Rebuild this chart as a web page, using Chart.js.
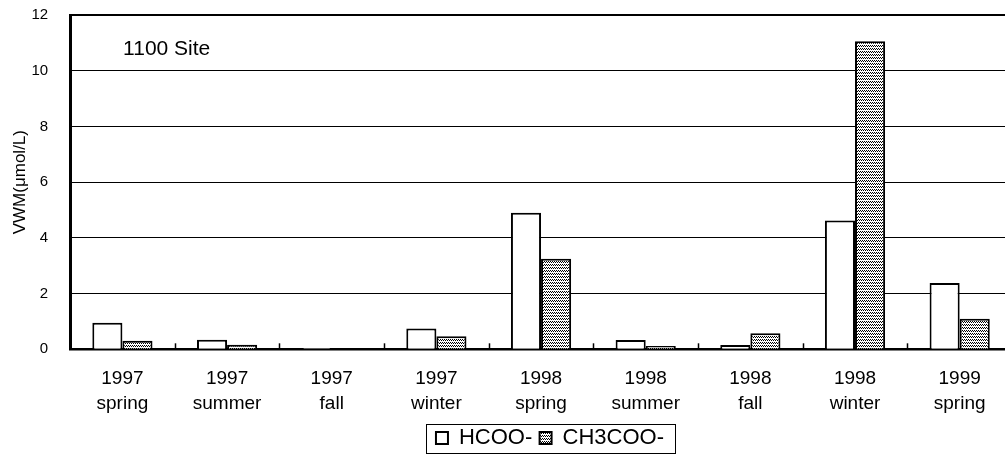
<!DOCTYPE html>
<html>
<head>
<meta charset="utf-8">
<script src="https://cdn.jsdelivr.net/npm/chart.js@4.4.1/dist/chart.umd.min.js"></script>
<style>
  html, body { margin: 0; padding: 0; background: #fff; overflow: hidden; }
  #wrap { width: 1012px; height: 455px; }
</style>
</head>
<body>
<div id="wrap"><canvas id="chart" width="1012" height="455"></canvas></div>
<script>
// Seasonal volume-weighted mean concentrations at the 1100 site
const seasonYears = ['1997', '1997', '1997', '1997', '1998', '1998', '1998', '1998', '1999'];
const seasonNames = ['spring', 'summer', 'fall', 'winter', 'spring', 'summer', 'fall', 'winter', 'spring'];
const hcooValues   = [0.95, 0.34, 0.05, 0.75, 4.90, 0.33, 0.15, 4.62, 2.38];
const ch3cooValues = [0.31, 0.16, 0.03, 0.47, 3.25, 0.12, 0.58, 11.06, 1.10];
const seriesNames = ['HCOO-', 'CH3COO-'];
const yMin = 0, yMax = 12, yStep = 2;
const yTitle = 'VWM(\u03bcmol/L)';
const siteLabel = '1100 Site';

const categories = seasonYears.map((y, i) => [y, seasonNames[i]]);

// Dotted halftone fill for the acetate bars
function dotPattern() {
  const c = document.createElement('canvas');
  c.width = 4; c.height = 3;
  const g = c.getContext('2d');
  g.fillStyle = '#ffffff';
  g.fillRect(0, 0, 4, 3);
  g.fillStyle = '#000000';
  [[0, 0], [2, 0], [1, 1], [3, 1]].forEach(([x, y]) => g.fillRect(x, y, 1, 1));
  return g.createPattern(c, 'repeat');
}

Chart.defaults.font.family = "'Liberation Sans', Arial, Helvetica, sans-serif";
Chart.defaults.color = '#000';

// Small inward tick marks on the category axis, a site label and a framed legend
const decorations = {
  id: 'decorations',
  afterLayout(chart) {
    const lg = chart.legend;
    const shiftX = 44, shiftY = 4;
    lg.left += shiftX; lg.right += shiftX;
    lg.top += shiftY; lg.bottom += shiftY;
  },
  afterDraw(chart) {
    const {ctx, chartArea, scales: {x}} = chart;
    ctx.save();
    // inward ticks at category boundaries
    const half = (x.getPixelForValue(1) - x.getPixelForValue(0)) / 2;
    ctx.strokeStyle = '#000';
    ctx.lineWidth = 1.5;
    for (let i = 1; i < categories.length; i++) {
      const px = Math.round(x.getPixelForValue(i) - half) + 0.5;
      ctx.beginPath();
      ctx.moveTo(px, chartArea.bottom);
      ctx.lineTo(px, chartArea.bottom - 6);
      ctx.stroke();
    }
    // site label
    ctx.fillStyle = '#000';
    ctx.font = "21px 'Liberation Sans', Arial, sans-serif";
    ctx.textBaseline = 'middle';
    ctx.textAlign = 'left';
    ctx.fillText(siteLabel, chartArea.left + 53, chartArea.top + 34);
    // legend frame
    const boxes = chart.legend.legendHitBoxes;
    if (boxes && boxes.length) {
      const first = boxes[0], last = boxes[boxes.length - 1];
      const l = Math.round(first.left) - 10 + 0.5;
      const r = Math.round(last.left + last.width) + 11 + 0.5;
      const t = Math.round(first.top) - 3 + 0.5;
      const b = Math.round(first.top + first.height) + 4 + 0.5;
      ctx.lineWidth = 1;
      ctx.strokeRect(l, t, r - l, b - t);
    }
    ctx.restore();
  }
};

new Chart(document.getElementById('chart'), {
  type: 'bar',
  data: {
    labels: categories,
    datasets: [
      {
        label: seriesNames[0],
        data: hcooValues,
        backgroundColor: '#ffffff',
        borderColor: '#000000',
        borderWidth: 2
      },
      {
        label: seriesNames[1],
        data: ch3cooValues,
        backgroundColor: dotPattern(),
        borderColor: '#000000',
        borderWidth: 2
      }
    ]
  },
  options: {
    responsive: false,
    animation: false,
    events: [],
    layout: { padding: { top: 15, right: 0, bottom: 0, left: 0 } },
    datasets: { bar: { categoryPercentage: 0.575, barPercentage: 1.0 } },
    scales: {
      x: {
        offset: true,
        grid: { display: false, drawTicks: true, tickLength: 17 },
        border: { display: true, color: '#000', width: 2.5 },
        ticks: {
          autoSkip: false,
          maxRotation: 0,
          padding: 0,
          color: '#000',
          font: { size: 19, lineHeight: 1.3 }
        }
      },
      y: {
        min: yMin,
        max: yMax,
        grid: {
          color: '#000',
          lineWidth: (ctx) => (ctx.tick && ctx.tick.value === yMax ? 2 : 1),
          drawTicks: true,
          tickLength: 22,
          tickColor: 'rgba(0,0,0,0)'
        },
        border: { display: true, color: '#000', width: 3 },
        ticks: {
          stepSize: yStep,
          padding: 0,
          color: '#000',
          font: { size: 15 }
        },
        title: {
          display: true,
          text: yTitle,
          color: '#000',
          font: { size: 17 },
          padding: { top: 10, bottom: 1 }
        }
      }
    },
    plugins: {
      legend: {
        position: 'bottom',
        labels: {
          boxWidth: 12,
          boxHeight: 12,
          padding: 7.3,
          color: '#000',
          font: { size: 22 }
        }
      },
      tooltip: { enabled: false }
    }
  },
  plugins: [decorations]
});
</script>
</body>
</html>
